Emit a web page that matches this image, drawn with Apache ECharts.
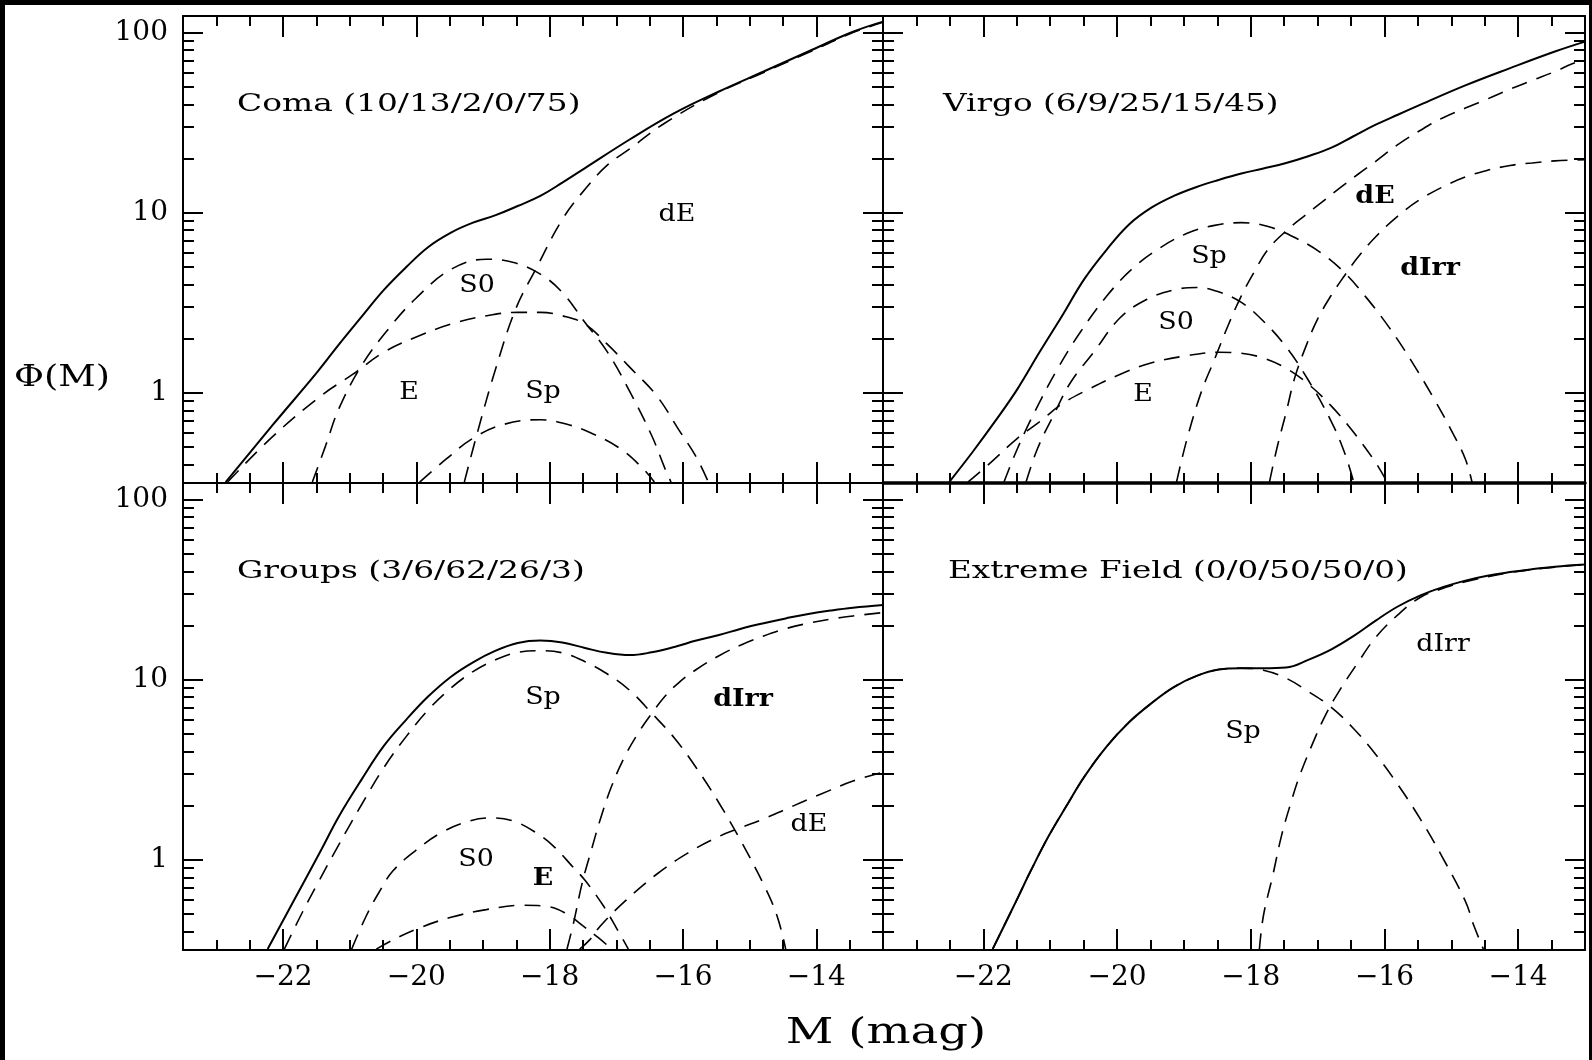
<!DOCTYPE html>
<html>
<head>
<meta charset="utf-8">
<script src="https://cdn.jsdelivr.net/npm/echarts@6/dist/echarts.min.js"></script>
<style>
  html, body { margin: 0; padding: 0; background: #fff; }
  #chart { width: 1592px; height: 1060px; }
</style>
</head>
<body>
<div id="chart"></div>
<script>
// tick marks
const xMajor = [-22, -20, -18, -16, -14];
const xMinor = [-23, -22.5, -21.5, -21, -20.5, -19.5, -19, -18.5, -17.5, -17, -16.5, -15.5, -15, -14.5, -13.5];
const yMajor = [1, 10, 100];
const yMinor = [0.4, 0.5, 0.6, 0.7, 0.8, 0.9, 2, 3, 4, 5, 6, 7, 8, 9, 20, 30, 40, 50, 60, 70, 80, 90];

// Coma (10/13/2/0/75)
const comaTotal = [[-22.86,0.32],[-22.16,0.66],[-21.49,1.30],[-21.16,1.86],[-20.82,2.65],[-20.49,3.72],[-20.15,5.00],[-19.82,6.46],[-19.48,7.76],[-19.15,8.81],[-18.81,9.70],[-18.48,10.9],[-18.14,12.4],[-17.81,14.7],[-17.47,17.7],[-16.80,25.5],[-16.13,35.7],[-15.46,47.1],[-14.79,60.8],[-14.12,78.5],[-13.45,101],[-13.0,115]];
const comaE = [[-22.83,0.32],[-22.16,0.57],[-21.42,0.97],[-20.95,1.27],[-20.49,1.68],[-20.02,2.03],[-19.48,2.41],[-18.95,2.68],[-18.48,2.80],[-18.14,2.80],[-17.81,2.68],[-17.47,2.41],[-17.14,1.87],[-16.80,1.39],[-16.40,0.97],[-16.07,0.63],[-15.80,0.44],[-15.62,0.32]];
const comaS0 = [[-21.56,0.32],[-21.36,0.51],[-21.16,0.82],[-20.82,1.42],[-20.42,2.26],[-20.02,3.31],[-19.48,4.85],[-18.95,5.52],[-18.54,5.29],[-18.14,4.56],[-17.81,3.61],[-17.47,2.46],[-17.14,1.70],[-16.80,1.02],[-16.47,0.58],[-16.27,0.38],[-16.18,0.32]];
const comaSp = [[-19.95,0.32],[-19.55,0.43],[-19.15,0.56],[-18.68,0.67],[-18.14,0.71],[-17.74,0.67],[-17.34,0.59],[-16.94,0.49],[-16.60,0.38],[-16.43,0.32]];
const comaDE = [[-19.28,0.32],[-19.08,0.61],[-18.81,1.36],[-18.51,2.92],[-18.21,4.85],[-17.81,9.18],[-17.47,13.5],[-17.14,18.3],[-16.80,22.6],[-16.27,31.5],[-15.46,46.6],[-14.79,60.1],[-14.12,77.5],[-13.45,100],[-13.0,114]];

// Virgo (6/9/25/15/45)
const virgoTotal = [[-22.51,0.32],[-22.16,0.47],[-21.83,0.69],[-21.49,1.05],[-21.16,1.68],[-20.82,2.68],[-20.49,4.28],[-20.15,6.27],[-19.82,8.61],[-19.48,10.7],[-19.15,12.4],[-18.81,13.9],[-18.48,15.2],[-18.14,16.5],[-17.81,17.6],[-17.47,18.9],[-17.14,20.6],[-16.80,22.9],[-16.47,26.5],[-16.13,30.8],[-15.80,35.0],[-15.46,39.8],[-14.79,50.9],[-14.12,63.5],[-13.45,78.5],[-13.0,89.1]];
const virgoE = [[-22.23,0.32],[-21.89,0.41],[-21.49,0.56],[-21.16,0.69],[-20.82,0.87],[-20.42,1.05],[-19.95,1.27],[-19.48,1.47],[-18.95,1.61],[-18.48,1.68],[-18.14,1.66],[-17.81,1.56],[-17.47,1.37],[-17.14,1.12],[-16.80,0.85],[-16.47,0.61],[-16.13,0.41],[-15.96,0.32]];
const virgoS0 = [[-21.36,0.32],[-21.19,0.49],[-20.95,0.75],[-20.69,1.15],[-20.35,1.68],[-19.95,2.62],[-19.55,3.31],[-19.15,3.73],[-18.81,3.85],[-18.48,3.64],[-18.14,3.18],[-17.81,2.50],[-17.47,1.80],[-17.14,1.18],[-16.80,0.70],[-16.60,0.47],[-16.46,0.32]];
const virgoSp = [[-21.69,0.32],[-21.49,0.49],[-21.22,0.80],[-20.89,1.36],[-20.55,2.17],[-20.15,3.46],[-19.75,4.97],[-19.35,6.40],[-18.95,7.69],[-18.54,8.51],[-18.14,8.81],[-17.74,8.38],[-17.34,7.28],[-16.94,5.96],[-16.60,4.66],[-16.27,3.38],[-15.93,2.31],[-15.60,1.51],[-15.26,0.93],[-14.99,0.61],[-14.79,0.43],[-14.69,0.32]];
const virgoDE = [[-19.11,0.32],[-18.95,0.56],[-18.74,1.01],[-18.54,1.54],[-18.34,2.36],[-18.14,3.46],[-17.94,4.75],[-17.74,6.27],[-17.47,7.93],[-17.20,9.59],[-16.94,11.4],[-16.67,13.7],[-16.40,16.3],[-16.13,19.3],[-15.80,23.9],[-15.46,28.7],[-15.13,33.6],[-14.79,38.1],[-14.46,42.8],[-14.12,48.5],[-13.79,54.2],[-13.45,60.8],[-13.19,67.1],[-13.0,70.6]];
const virgoDIrr = [[-17.72,0.32],[-17.61,0.49],[-17.47,0.78],[-17.34,1.22],[-17.17,1.83],[-17.00,2.57],[-16.80,3.46],[-16.60,4.46],[-16.40,5.64],[-16.13,7.36],[-15.80,9.59],[-15.46,11.9],[-15.13,13.9],[-14.79,15.8],[-14.46,17.2],[-14.12,18.3],[-13.79,18.9],[-13.45,19.4],[-13.0,19.7]];

// Groups (3/6/62/26/3)
const groupsTotal = [[-22.23,0.32],[-21.96,0.49],[-21.69,0.75],[-21.42,1.15],[-21.16,1.75],[-20.82,2.80],[-20.49,4.28],[-20.15,6.01],[-19.82,8.09],[-19.48,10.4],[-19.15,12.5],[-18.81,14.5],[-18.48,16.0],[-18.14,16.5],[-17.81,16.1],[-17.47,15.0],[-17.14,14.1],[-16.80,13.7],[-16.47,14.2],[-16.13,15.2],[-15.80,16.5],[-15.46,17.7],[-15.13,19.2],[-14.79,20.6],[-14.46,21.9],[-14.12,23.2],[-13.79,24.2],[-13.45,25.1],[-13.0,26.0]];
const groupsE = [[-20.60,0.32],[-20.35,0.36],[-19.95,0.42],[-19.48,0.48],[-18.95,0.53],[-18.41,0.56],[-18.01,0.55],[-17.74,0.50],[-17.50,0.43],[-17.27,0.37],[-17.07,0.32]];
const groupsS0 = [[-20.97,0.32],[-20.75,0.49],[-20.55,0.67],[-20.35,0.87],[-20.02,1.12],[-19.62,1.42],[-19.21,1.64],[-18.88,1.71],[-18.54,1.64],[-18.21,1.42],[-17.94,1.19],[-17.67,0.93],[-17.47,0.77],[-17.20,0.56],[-17.00,0.42],[-16.82,0.32]];
const groupsSp = [[-21.98,0.32],[-21.76,0.47],[-21.49,0.73],[-21.16,1.22],[-20.82,2.03],[-20.49,3.24],[-20.15,4.85],[-19.82,6.82],[-19.48,8.99],[-19.15,11.1],[-18.81,12.9],[-18.48,14.2],[-18.14,14.5],[-17.81,14.1],[-17.47,12.6],[-17.14,10.8],[-16.80,8.73],[-16.47,6.53],[-16.13,4.75],[-15.80,3.24],[-15.46,2.07],[-15.13,1.27],[-14.79,0.73],[-14.59,0.49],[-14.46,0.32]];
const groupsDE = [[-17.55,0.32],[-17.40,0.36],[-17.24,0.43],[-16.87,0.59],[-16.40,0.83],[-15.93,1.09],[-15.46,1.35],[-15.13,1.51],[-14.79,1.69],[-14.46,1.91],[-14.12,2.17],[-13.79,2.44],[-13.45,2.74],[-13.0,3.07]];
const groupsDIrr = [[-17.74,0.32],[-17.64,0.45],[-17.51,0.75],[-17.37,1.15],[-17.24,1.68],[-17.07,2.57],[-16.87,3.77],[-16.67,5.07],[-16.47,6.49],[-16.27,8.09],[-16.07,9.59],[-15.80,11.4],[-15.46,13.6],[-15.13,15.6],[-14.79,17.5],[-14.46,19.2],[-14.12,20.6],[-13.79,21.7],[-13.45,22.6],[-13.0,23.6]];

// Extreme Field (0/0/50/50/0)
const fieldTotal = [[-21.86,0.32],[-21.69,0.43],[-21.49,0.61],[-21.29,0.87],[-21.02,1.36],[-20.75,2.01],[-20.49,2.89],[-20.15,4.28],[-19.82,5.81],[-19.48,7.43],[-19.15,9.10],[-18.81,10.5],[-18.48,11.4],[-18.14,11.6],[-17.81,11.6],[-17.47,11.7],[-17.14,12.9],[-16.80,14.7],[-16.47,17.4],[-16.13,21.3],[-15.80,25.5],[-15.46,29.4],[-15.13,32.6],[-14.79,35.5],[-14.46,37.8],[-14.12,39.6],[-13.79,41.1],[-13.45,42.4],[-13.0,43.6]];
const fieldSp = [[-21.86,0.32],[-21.69,0.43],[-21.49,0.61],[-21.29,0.87],[-21.02,1.36],[-20.75,2.01],[-20.49,2.89],[-20.15,4.28],[-19.82,5.81],[-19.48,7.43],[-19.15,9.10],[-18.81,10.5],[-18.48,11.4],[-18.14,11.6],[-17.81,11.3],[-17.47,10.2],[-17.14,8.61],[-16.80,7.06],[-16.47,5.40],[-16.13,3.85],[-15.80,2.62],[-15.46,1.68],[-15.13,1.03],[-14.79,0.59],[-14.66,0.43],[-14.52,0.32]];
const fieldDIrr = [[-17.87,0.32],[-17.81,0.49],[-17.67,0.82],[-17.54,1.36],[-17.40,2.07],[-17.27,2.92],[-17.07,4.46],[-16.87,6.49],[-16.67,8.73],[-16.40,12.4],[-16.13,17.2],[-15.80,22.9],[-15.46,28.7],[-15.13,32.1],[-14.79,35.0],[-14.12,39.3],[-13.45,42.2],[-13.0,43.5]];

const FONT = '"DejaVu Serif", "Liberation Serif", serif';
const YMIN = Math.pow(10, -0.5);
const YMAX = Math.pow(10, 2.092);

let chart = echarts.init(document.getElementById('chart'));

function axis(kind, g, pos, ticks, len, extra) {
  let a = {
    gridIndex: g,
    position: pos,
    splitLine: { show: false },
    axisLine: { show: false, onZero: false },
    axisTick: { show: true, inside: true, length: len, customValues: ticks, lineStyle: { color: '#000', width: 2 } },
    axisLabel: { show: false }
  };
  if (kind == 'x') { a.type = 'value'; a.min = -23.5; a.max = -13; }
  else { a.type = 'log'; a.logBase = 10; a.min = YMIN; a.max = YMAX; }
  return Object.assign(a, extra || {});
}

function lineOn(w) { return { show: true, onZero: false, lineStyle: { color: '#000', width: w } }; }

let xAxes = [], yAxes = [];
for (let g = 0; g < 4; g++) {
  let bottomRow = g >= 2, leftCol = g % 2 == 0;
  xAxes.push(axis('x', g, 'bottom', xMajor, 21, {
    axisLine: lineOn(g == 1 ? 3.5 : 2),
    axisLabel: {
      show: bottomRow, customValues: xMajor, margin: 14, color: '#000',
      fontFamily: FONT, fontSize: 28,
      formatter: v => '\u2212' + Math.abs(v)
    }
  }));
  xAxes.push(axis('x', g, 'bottom', xMinor, 10));
  xAxes.push(axis('x', g, 'top', xMajor, 21, { axisLine: lineOn(2) }));
  xAxes.push(axis('x', g, 'top', xMinor, 10));

  yAxes.push(axis('y', g, 'left', yMajor, 20, {
    axisLine: lineOn(2),
    axisLabel: {
      show: leftCol, customValues: yMajor, margin: 15, color: '#000',
      fontFamily: FONT, fontSize: 28,
      formatter: v => String(Math.round(v))
    }
  }));
  yAxes.push(axis('y', g, 'left', yMinor, 11));
  yAxes.push(axis('y', g, 'right', yMajor, 20, { axisLine: lineOn(2) }));
  yAxes.push(axis('y', g, 'right', yMinor, 11));
}

function curve(data, g, dashed) {
  return {
    type: 'line',
    data: data,
    xAxisIndex: g * 4,
    yAxisIndex: g * 4,
    showSymbol: false,
    smooth: 0.4,
    silent: true,
    lineStyle: { color: '#000', width: dashed ? 1.6 : 2, type: dashed ? [16, 10] : 'solid' }
  };
}

// text is stretched sideways to get the wide plotter lettering
function txt(text, x, y, size, sx, align, bold) {
  return {
    type: 'text', x: x, y: y, z: 10, scaleX: sx,
    style: {
      text: text, fontFamily: FONT, fontSize: size, fill: '#000',
      fontWeight: bold ? 'bold' : 'normal',
      align: align || 'center', verticalAlign: 'middle'
    }
  };
}

function part(text, x, y, bold) {
  return txt(text, x, y, 24, 1.12, 'center', bold);
}

option = {
  backgroundColor: '#fff',
  animation: false,
  grid: [
    { left: 183, top: 16, width: 700, height: 467 },
    { left: 883, top: 16, width: 702, height: 467 },
    { left: 183, top: 483, width: 700, height: 467 },
    { left: 883, top: 483, width: 702, height: 467 }
  ],
  xAxis: xAxes,
  yAxis: yAxes,
  series: [
    curve(comaTotal, 0, false), curve(comaE, 0, true), curve(comaS0, 0, true), curve(comaSp, 0, true), curve(comaDE, 0, true),
    curve(virgoTotal, 1, false), curve(virgoE, 1, true), curve(virgoS0, 1, true), curve(virgoSp, 1, true), curve(virgoDE, 1, true), curve(virgoDIrr, 1, true),
    curve(groupsTotal, 2, false), curve(groupsE, 2, true), curve(groupsS0, 2, true), curve(groupsSp, 2, true), curve(groupsDE, 2, true), curve(groupsDIrr, 2, true),
    curve(fieldTotal, 3, false), curve(fieldSp, 3, true), curve(fieldDIrr, 3, true)
  ],
  graphic: [
    // black frame round the picture
    { type: 'rect', shape: { x: 0, y: 0, width: 1592, height: 5 }, style: { fill: '#000' } },
    { type: 'rect', shape: { x: 0, y: 0, width: 5, height: 1060 }, style: { fill: '#000' } },
    { type: 'rect', shape: { x: 1589, y: 0, width: 3, height: 1060 }, style: { fill: '#000' } },

    txt('Coma (10/13/2/0/75)', 237, 105, 24, 1.37, 'left'),
    txt('Virgo (6/9/25/15/45)', 943, 105, 24, 1.36, 'left'),
    txt('Groups (3/6/62/26/3)', 237, 572, 24, 1.37, 'left'),
    txt('Extreme Field (0/0/50/50/0)', 948, 572, 24, 1.36, 'left'),

    part('dE', 677, 215), part('S0', 477, 286), part('E', 409, 393), part('Sp', 543, 392),
    part('dE', 1375, 197, true), part('Sp', 1209, 257), part('dIrr', 1430, 269, true),
    part('S0', 1176, 323), part('E', 1143, 395),
    part('Sp', 543, 698), part('dIrr', 743, 700, true), part('dE', 809, 825),
    part('S0', 476, 860), part('E', 543, 879, true),
    part('Sp', 1243, 732), part('dIrr', 1443, 645),

    txt('\u03A6(M)', 62, 378, 30, 1.22),
    txt('M (mag)', 886, 1034, 35, 1.33)
  ]
};

chart.setOption(option);
</script>
</body>
</html>
